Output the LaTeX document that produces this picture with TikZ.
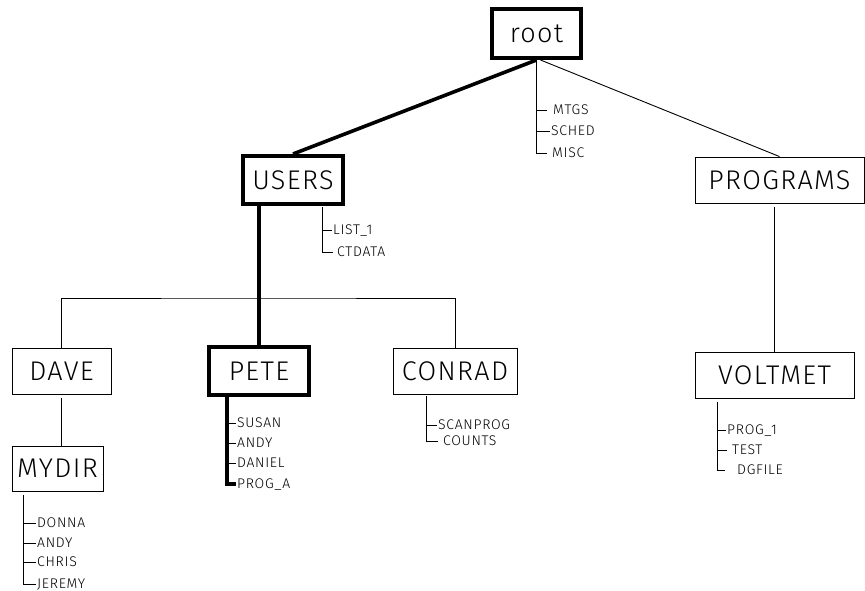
\documentclass[tikz,border=0pt]{standalone}
\usepackage{fontspec}
\setmainfont{Fira Sans Light}
\begin{document}
\begin{tikzpicture}[x=1pt,y=-1pt,
  box/.style={draw, line width=0.9pt, inner sep=0pt, font=\fontsize{27}{30}\selectfont\addfontfeature{LetterSpace=5}, text height=18.8pt, text depth=0pt},
  hbox/.style={box, line width=4pt},
  file/.style={inner xsep=1pt, inner ysep=0pt, anchor=west, font=\fontsize{14}{15}\selectfont\addfontfeature{LetterSpace=5}, text height=9.6pt, text depth=0pt},
  tline/.style={line width=0.9pt},
  thickline/.style={line width=3.6pt},
]
\useasboundingbox (0,0) rectangle (865,591);

% boxes
\node[hbox, minimum width=89pt, minimum height=49pt] (root) at (536.5,33.5) {root};
\node[hbox, minimum width=100pt, minimum height=48pt] (users) at (293,180) {USERS};
\node[box, minimum width=169pt, minimum height=46pt] (programs) at (779.5,180) {PROGRAMS};
\node[box, minimum width=159pt, minimum height=46pt] (voltmet) at (774.5,375) {VOLTMET};
\node[box, minimum width=99pt, minimum height=46pt] (dave) at (61.5,371) {DAVE};
\node[box, minimum width=91pt, minimum height=45pt] (mydir) at (57.5,468.5) {MYDIR};
\node[hbox, minimum width=100pt, minimum height=48pt] (pete) at (259,371) {PETE};
\node[box, minimum width=124pt, minimum height=46pt] (conrad) at (455,371) {CONRAD};

% file labels
\node[file] (mtgs)  at (552,110) {MTGS};
\node[file] (sched) at (550,131) {SCHED};
\node[file] (misc)  at (551,153) {MISC};

\node[file] (list1)  at (332,230) {LIST\_1};
\node[file] (ctdata) at (336,252) {CTDATA};

\node[file] (susan)  at (236,423) {SUSAN};
\node[file] (andyp)  at (236,443) {ANDY};
\node[file] (daniel) at (236,463) {DANIEL};
\node[file] (proga)  at (236,484) {PROG\_A};

\node[file] (scanprog) at (437,425) {SCANPROG};
\node[file] (counts)   at (442,441) {COUNTS};

\node[file] (prog1)  at (726,430) {PROG\_1};
\node[file] (test)   at (731,450) {TEST};
\node[file] (dgfile) at (736,470) {DGFILE};

\node[file] (donna)  at (36,523) {DONNA};
\node[file] (andym)  at (36,543) {ANDY};
\node[file] (chris)  at (36,562) {CHRIS};
\node[file] (jeremy) at (36,584) {JEREMY};

% tree connectors
\draw[thickline] (root.south) -- (users.north);
\draw[tline] ([xshift=4pt]root.south) -- (programs.north);
\draw[thickline] (users.south -| pete.north) -- (pete.north);
\coordinate (bus) at (259,298);
\draw[tline] (dave.north) |- (bus) -| (conrad.north);
\draw[tline, shorten <=4pt] (dave.south) -- (dave.south |- mydir.north);
\draw[tline, shorten <=4pt] (programs.south -| voltmet.north) -- (voltmet.north);

% root files
\draw[tline, shorten >=4pt] (root.south) |- (misc.west);
\draw[tline, shorten >=5pt] (root.south |- mtgs.west) -- (mtgs.west);
\draw[tline] (root.south |- sched.west) -- (sched.west);

% users files
\coordinate (ufile) at (322,207);
\draw[tline, shorten >=3pt] (ufile) |- (ctdata.west);
\draw[tline] (ufile |- list1.west) -- (list1.west);

% pete files
\coordinate (pfile) at (227,395);
\draw[thickline] (pfile) |- (proga.west);
\draw[tline] (pfile |- susan.west) -- (susan.west);
\draw[tline] (pfile |- andyp.west) -- (andyp.west);
\draw[tline] (pfile |- daniel.west) -- (daniel.west);

% conrad files
\coordinate (cfile) at (426,396);
\draw[tline, shorten >=4pt] (cfile) |- (counts.west);
\draw[tline] (cfile |- scanprog.west) -- (scanprog.west);

% voltmet files
\coordinate (vfile) at (717,402);
\draw[tline, shorten >=11pt] (vfile) |- (dgfile.west);
\draw[tline] (vfile |- prog1.west) -- (prog1.west);
\draw[tline, shorten >=4pt] (vfile |- test.west) -- (test.west);

% mydir files
\coordinate (mfile) at (23,495);
\draw[tline] (mfile) |- (jeremy.west);
\draw[tline] (mfile |- donna.west) -- (donna.west);
\draw[tline] (mfile |- andym.west) -- (andym.west);
\draw[tline] (mfile |- chris.west) -- (chris.west);
\end{tikzpicture}
\end{document}
